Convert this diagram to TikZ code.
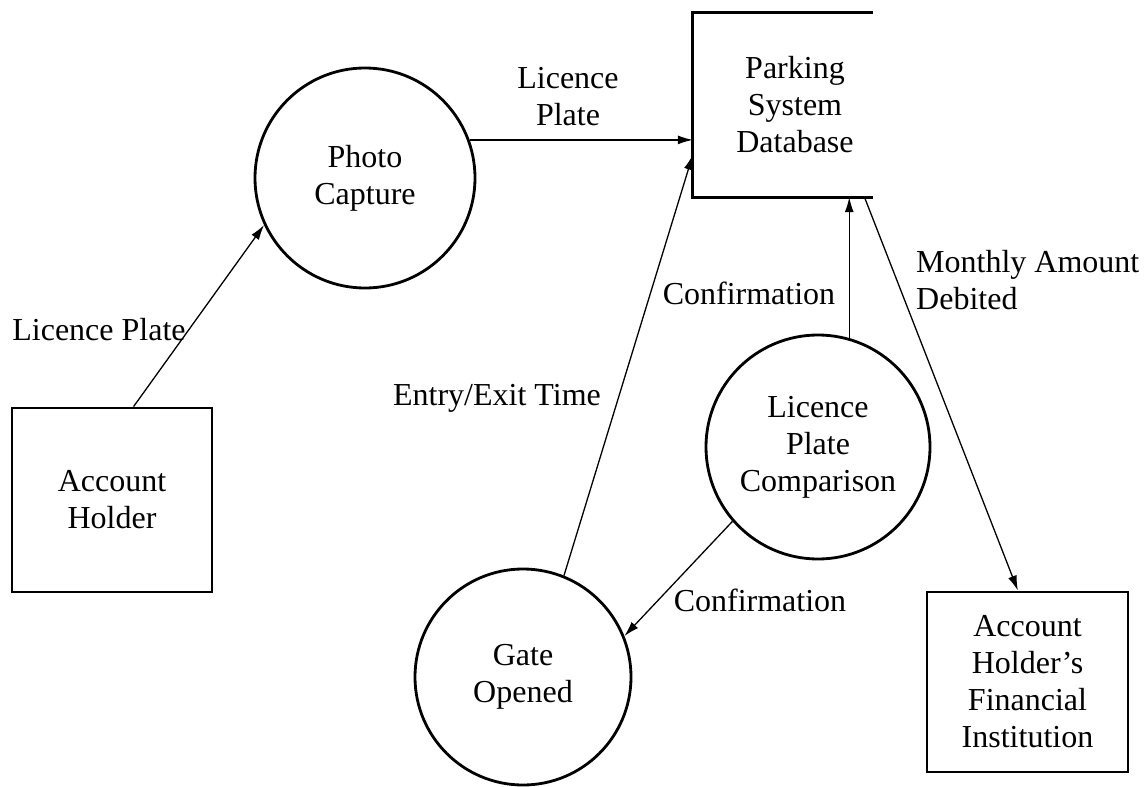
\documentclass[tikz,border=0pt]{standalone}
\usepackage{fontspec}
\setmainfont{Liberation Serif}
\usetikzlibrary{arrows.meta,calc}
\begin{document}
\begin{tikzpicture}[x=1pt,y=-1pt,
  every node/.style={font=\fontsize{32}{37}\selectfont, align=center, inner sep=0pt},
  proc/.style={circle, draw, line width=2.8pt, minimum size=220pt},
  ent/.style={rectangle, draw, line width=2.8pt},
  flow/.style={-{Latex[length=15pt,width=9pt]}, line width=1.3pt},
  lbl/.style={}]
\useasboundingbox (0,0) rectangle (1144,787);
\fill[white] (0,0) rectangle (1144,787);
% entities
\node[ent, minimum width=200pt, minimum height=184pt] (ah) at (112,500) {Account\\Holder};
\node[ent, minimum width=201pt, minimum height=180pt] (fi) at (1027.5,682) {Account\\Holder’s\\Financial\\Institution};
\node[rectangle, minimum width=204pt, minimum height=184pt] (pdb) at (795,105) {Parking\\System\\Database};
\draw[line width=2.8pt] ($(pdb.north west)+(180,0)$) -- (pdb.north west) -- (pdb.south west) -- ($(pdb.south west)+(180,0)$);
% processes
\node[proc] (pc) at (365,178) {Photo\\Capture};
\node[proc, minimum size=224pt] (lpc) at (818,447) {Licence\\Plate\\Comparison};
\node[proc, minimum size=216pt] (go) at (523,677) {Gate\\Opened};
% flows
\draw[flow] (ah.77.7) -- (pc.205);
\draw[flow] (pc.20.7) -- (pc.20.7 -| pdb.west);
\draw[flow] (go.68.3) -- (pdb.206.6);
\draw[flow] (lpc.74.5) -- (lpc.74.5 |- pdb.south);
\draw[flow] (pdb.-53.5) -- (fi.96);
\draw[flow] (lpc.221.5) -- (go.22);
% labels
\node[lbl] (l1) at (99,330) {Licence Plate};
\node[lbl] (l2) at (568,97) {Licence\\Plate};
\node[lbl] (l3) at (749,293) {Confirmation};
\node[lbl] (l4) at (497,398) {Entry/Exit Time};
\node[lbl, anchor=west, align=left] (l5) at (916,280) {Monthly Amount\\Debited};
\node[lbl] (l6) at (760,600) {Confirmation};
\end{tikzpicture}
\end{document}
